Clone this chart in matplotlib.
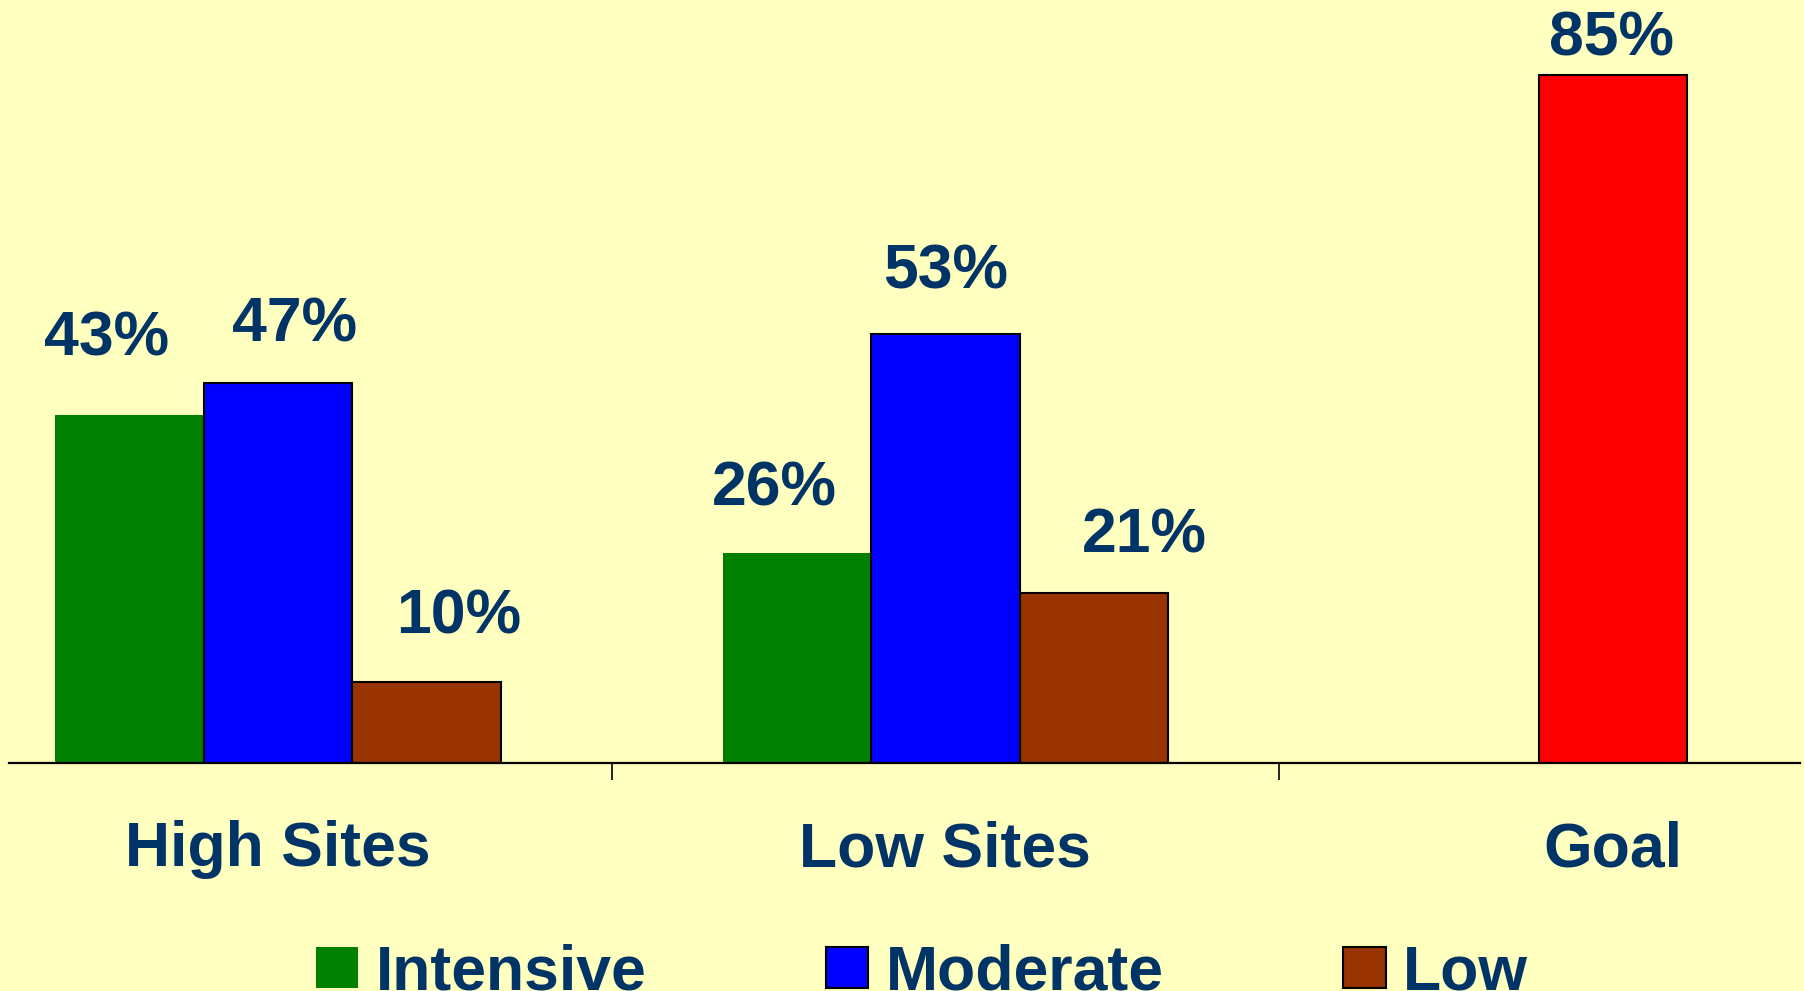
import numpy as np
import matplotlib.pyplot as plt
from matplotlib.patches import Patch

categories = ["High Sites", "Low Sites", "Goal"]
series = ["Intensive", "Moderate", "Low"]
intensive = [43, 26]
moderate = [47, 53]
low = [10, 21]
goal = 85

bg = "#FFFFC0"
navy = "#003366"
colors = {"Intensive": "#008000", "Moderate": "#0000FF", "Low": "#993300"}

# label offsets (pixels) from the top centre of each bar
offsets = {
    ("Intensive", 0): (-23, 60), ("Moderate", 0): (17, 41), ("Low", 0): (32, 49),
    ("Intensive", 1): (-23, 47), ("Moderate", 1): (0, 46), ("Low", 1): (51, 41),
}

plt.rcParams['font.family'] = ['Liberation Sans', 'DejaVu Sans']
plt.rcParams['font.weight'] = 'bold'

fig = plt.figure(figsize=(18.04, 9.91), dpi=100, facecolor=bg)
ax = fig.add_axes([0.005, 0.23, 0.993, 0.77], facecolor=bg)

w = 0.2224
x = np.arange(2)
for i, (name, vals) in enumerate(zip(series, [intensive, moderate, low])):
    edge = "none" if name == "Intensive" else "black"
    bars = ax.bar(x + (i - 1) * w, vals, w, color=colors[name],
                  edgecolor=edge, linewidth=1.5)
    for j, b in enumerate(bars):
        dx, dy = offsets[(name, j)]
        ax.annotate(f"{vals[j]}%", (b.get_x() + w / 2, vals[j]),
                    xytext=(dx, dy), textcoords="offset pixels",
                    ha="center", va="baseline", fontsize=45,
                    fontweight="bold", color=navy)

ax.bar(2, goal, w, color="#FF0000", edgecolor="black", linewidth=1.5)
ax.annotate(f"{goal}%", (2, goal), xytext=(-1, 20), textcoords="offset pixels",
            ha="center", va="baseline", fontsize=45, fontweight="bold", color=navy)

ax.set_xlim(-0.403, 2.281)
ax.set_ylim(0, 94.27)
for s in ["left", "right", "top"]:
    ax.spines[s].set_visible(False)
ax.spines["bottom"].set_linewidth(1.6)
ax.set_yticks([])
ax.set_xticks([0.5, 1.5])
ax.set_xticklabels([])
ax.tick_params(axis="x", which="major", direction="out", length=12, width=1.2)
ax.set_xticks([0, 1, 2], minor=True)
ax.set_xticklabels(categories, minor=True, fontsize=45, fontweight="bold", color=navy)
ax.tick_params(axis="x", which="minor", length=0, pad=41)

handles = [Patch(facecolor=colors["Intensive"], edgecolor="none"),
           Patch(facecolor=colors["Moderate"], edgecolor="black", linewidth=1.5),
           Patch(facecolor=colors["Low"], edgecolor="black", linewidth=1.5)]
fig.legend(handles, series, loc="upper center", bbox_to_anchor=(0.511, 0.048),
           ncol=3, frameon=False, fontsize=45, handlelength=0.68,
           handleheight=0.63, handletextpad=0.28, columnspacing=2.87,
           borderpad=0, borderaxespad=0, labelcolor=navy,
           prop={"weight": "bold", "size": 45})

fig.savefig("out.png", dpi=100, facecolor=bg)
